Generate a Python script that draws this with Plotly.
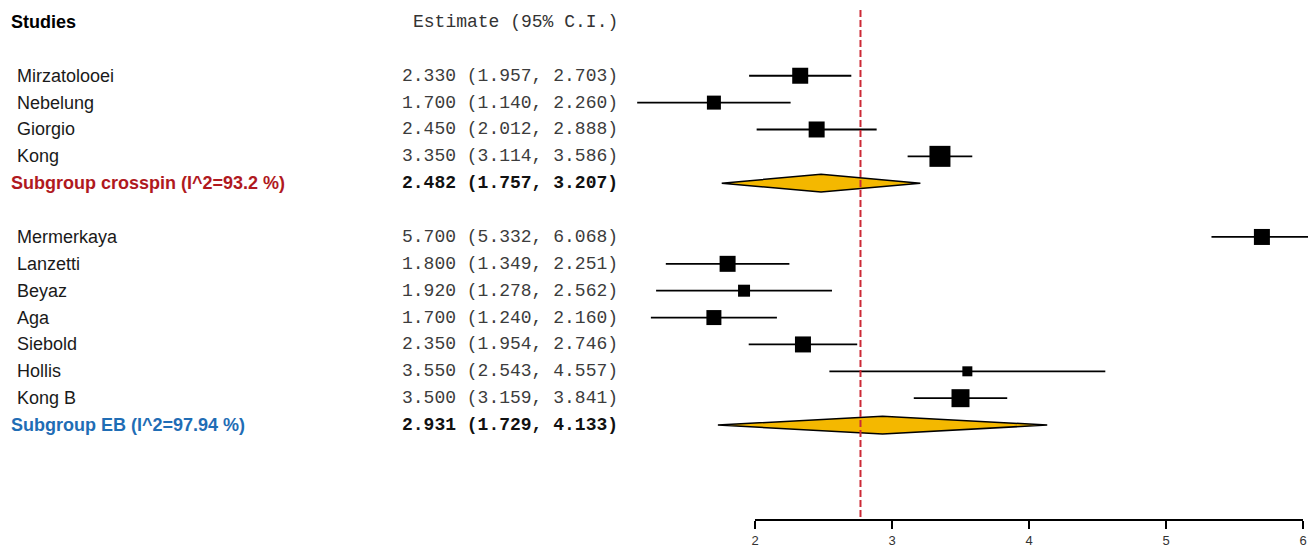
import plotly.graph_objects as go

# ---------------- data ----------------
studies_crosspin = ["Mirzatolooei", "Nebelung", "Giorgio", "Kong"]
est_crosspin = [2.330, 1.700, 2.450, 3.350]
lo_crosspin = [1.957, 1.140, 2.012, 3.114]
hi_crosspin = [2.703, 2.260, 2.888, 3.586]

studies_eb = ["Mermerkaya", "Lanzetti", "Beyaz", "Aga", "Siebold", "Hollis", "Kong B"]
est_eb = [5.700, 1.800, 1.920, 1.700, 2.350, 3.550, 3.500]
lo_eb = [5.332, 1.349, 1.278, 1.240, 1.954, 2.543, 3.159]
hi_eb = [6.068, 2.251, 2.562, 2.160, 2.746, 4.557, 3.841]

subgroup_names = ["Subgroup crosspin (I^2=93.2 %)", "Subgroup EB (I^2=97.94 %)"]
subgroup_est = [2.482, 2.931]
subgroup_lo = [1.757, 1.729]
subgroup_hi = [3.207, 4.133]

overall_estimate = 2.77
tick_values = [2, 3, 4, 5, 6]

# ---------------- style ----------------
box_sizes_crosspin = [16, 14, 16, 21]
box_sizes_eb = [16, 16, 12, 15, 16, 10, 18]
subgroup_colors = ["#b0191e", "#1f6db5"]
diamond_fill = "#f4b800"
diamond_half = 0.33
NAME_FONT = "Arial, Liberation Sans, sans-serif"
MONO_FONT = "Courier New, Liberation Mono, monospace"
W, H = 1308, 549

# row layout (row index increases downward)
rows_crosspin = [2, 3, 4, 5]
row_sub_crosspin = 6
rows_eb = [8, 9, 10, 11, 12, 13, 14]
row_sub_eb = 15
row_axis = 18.5

fig = go.Figure()

def add_studies(est, lo, hi, rows, sizes):
    fig.add_trace(go.Scatter(
        x=est, y=rows, mode="markers",
        marker=dict(symbol="square", size=sizes, color="black", opacity=1, line=dict(width=0)),
        error_x=dict(type="data", symmetric=False,
                     array=[h - e for e, h in zip(est, hi)],
                     arrayminus=[e - l for e, l in zip(est, lo)],
                     color="black", thickness=1.8, width=0),
        showlegend=False, hoverinfo="skip",
    ))

add_studies(est_crosspin, lo_crosspin, hi_crosspin, rows_crosspin, box_sizes_crosspin)
add_studies(est_eb, lo_eb, hi_eb, rows_eb, box_sizes_eb)

for e, l, h, r in zip(subgroup_est, subgroup_lo, subgroup_hi, [row_sub_crosspin, row_sub_eb]):
    fig.add_trace(go.Scatter(
        x=[l, e, h, e, l], y=[r, r - diamond_half, r, r + diamond_half, r],
        mode="lines", fill="toself", fillcolor=diamond_fill,
        line=dict(color="black", width=1.5), showlegend=False, hoverinfo="skip",
    ))

# invisible trace to show the displayed axis
fig.add_trace(go.Scatter(x=[tick_values[0], tick_values[-1]], y=[None, None],
                         xaxis="x2", yaxis="y", mode="markers", showlegend=False,
                         hoverinfo="skip"))

# red dashed reference line
fig.add_shape(type="line", xref="x", yref="y", x0=overall_estimate, x1=overall_estimate,
              y0=-0.45, y1=row_axis, line=dict(color="#cc2a36", width=2, dash="7px,3px"),
              layer="above")

# ---------------- text ----------------
ann = []
NAME_X = 15 / W
SUB_X = 9 / W
NUM_X = 620 / W

ann.append(dict(x=SUB_X, y=0, text="<b>Studies</b>", font=dict(family=NAME_FONT, size=18, color="black"),
                xanchor="left"))
ann.append(dict(x=NUM_X, y=0, text="Estimate (95% C.I.)",
                font=dict(family=MONO_FONT, size=18, color="#333333"), xanchor="right"))

def fmt(e, l, h):
    return f"{e:.3f} ({l:.3f}, {h:.3f})"

for names, est, lo, hi, rows in [(studies_crosspin, est_crosspin, lo_crosspin, hi_crosspin, rows_crosspin),
                                  (studies_eb, est_eb, lo_eb, hi_eb, rows_eb)]:
    for n, e, l, h, r in zip(names, est, lo, hi, rows):
        ann.append(dict(x=NAME_X, y=r, text=n, font=dict(family=NAME_FONT, size=18, color="#1a1a1a"),
                        xanchor="left"))
        ann.append(dict(x=NUM_X, y=r, text=fmt(e, l, h),
                        font=dict(family=MONO_FONT, size=18, color="#3c3c3c"), xanchor="right"))

for name, e, l, h, r, c in zip(subgroup_names, subgroup_est, subgroup_lo, subgroup_hi,
                               [row_sub_crosspin, row_sub_eb], subgroup_colors):
    ann.append(dict(x=SUB_X, y=r, text=f"<b>{name}</b>", font=dict(family=NAME_FONT, size=18, color=c),
                    xanchor="left"))
    ann.append(dict(x=NUM_X, y=r, text=f"<b>{fmt(e, l, h)}</b>",
                    font=dict(family=MONO_FONT, size=18, color="#111111"), xanchor="right"))

for a in ann:
    a.update(xref="paper", yref="y", yanchor="middle", showarrow=False)

# ---------------- axes ----------------
px_per_unit = 137.0
x_left = 2 - 755 / px_per_unit
x_right = x_left + W / px_per_unit
row_px = 26.87
y_top = 0 - 22 / row_px
y_bot = y_top + H / row_px

fig.update_layout(
    width=W, height=H, margin=dict(l=0, r=0, t=0, b=0, pad=0, autoexpand=False),
    paper_bgcolor="white", plot_bgcolor="rgba(0,0,0,0)",
    annotations=ann,
    xaxis=dict(range=[x_left, x_right], domain=[0, 1], visible=False, fixedrange=True,
               automargin=False),
    yaxis=dict(range=[y_bot, y_top], domain=[0, 1], visible=False, fixedrange=True,
               automargin=False),
    xaxis2=dict(range=[2, 6], domain=[755 / W, 1303 / W], anchor="free",
                position=1 - 520 / H, showline=True, linecolor="black", linewidth=1.8,
                ticks="outside", ticklen=8, tickwidth=1.8, tickcolor="black",
                ticklabelstandoff=0, automargin=False,
                tickvals=tick_values, ticktext=[str(t) for t in tick_values],
                tickfont=dict(family=NAME_FONT, size=13, color="#333333"),
                showgrid=False, zeroline=False, fixedrange=True),
)

fig.write_html("out.html", config={"displayModeBar": False},
               post_script="document.body.style.margin='0px';")
